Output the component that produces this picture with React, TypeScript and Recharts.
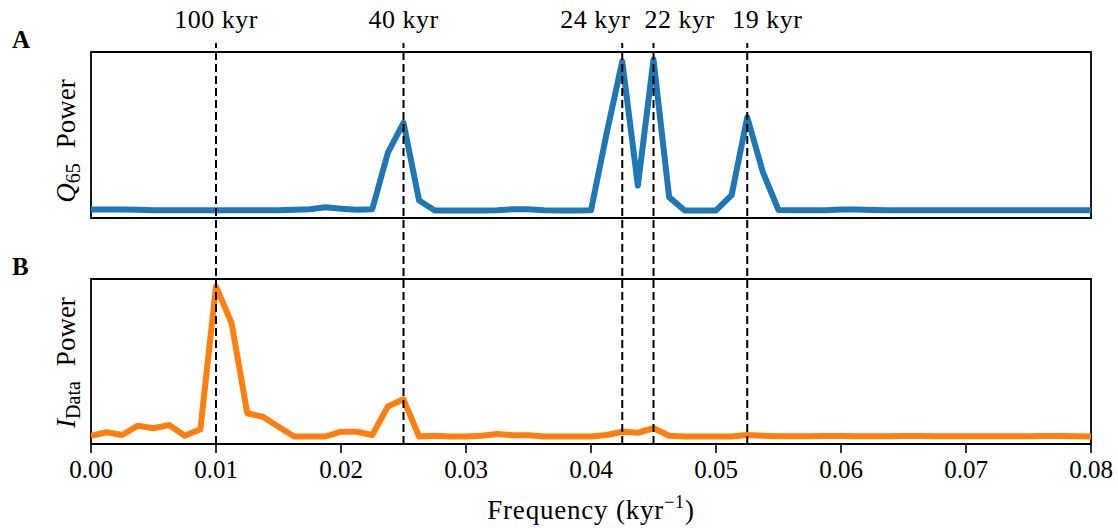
import React from "react";
import {
  LineChart,
  Line,
  XAxis,
  YAxis,
  ReferenceLine,
  ReferenceArea,
} from "recharts";

// frequency grid (kyr^-1)
const freqs = [
  0, 0.00125, 0.0025, 0.00375, 0.005, 0.00625, 0.0075, 0.00875, 0.01, 0.01125,
  0.0125, 0.01375, 0.015, 0.01625, 0.0175, 0.01875, 0.02, 0.02125, 0.0225, 0.02375,
  0.025, 0.02625, 0.0275, 0.02875, 0.03, 0.03125, 0.0325, 0.03375, 0.035, 0.03625,
  0.0375, 0.03875, 0.04, 0.04125, 0.0425, 0.04375, 0.045, 0.04625, 0.0475, 0.04875,
  0.05, 0.05125, 0.0525, 0.05375, 0.055, 0.05625, 0.0575, 0.05875, 0.06, 0.06125,
  0.0625, 0.06375, 0.065, 0.06625, 0.0675, 0.06875, 0.07, 0.07125, 0.0725, 0.07375,
  0.075, 0.07625, 0.0775, 0.07875, 0.08,
];

// Q65 power (normalised)
const q65Power = [
  0.01, 0.01, 0.01, 0.008, 0.006, 0.006, 0.006, 0.006, 0.006, 0.006,
  0.006, 0.006, 0.006, 0.008, 0.012, 0.025, 0.016, 0.008, 0.012, 0.39,
  0.59, 0.07, 0.004, 0.004, 0.004, 0.004, 0.006, 0.012, 0.012, 0.006,
  0.004, 0.004, 0.005, 0.52, 1.0, 0.17, 1.013, 0.093, 0.004, 0.004,
  0.004, 0.107, 0.627, 0.26, 0.007, 0.005, 0.005, 0.006, 0.01, 0.01,
  0.007, 0.005, 0.005, 0.005, 0.005, 0.005, 0.005, 0.005, 0.005, 0.005,
  0.005, 0.005, 0.005, 0.005, 0.005,
];

// insolation data power (normalised)
const iDataPower = [
  0.005, 0.028, 0.01, 0.072, 0.055, 0.077, 0.005, 0.048, 1.0, 0.755,
  0.155, 0.132, 0.065, 0.0, 0.0, 0.0, 0.032, 0.032, 0.01, 0.2,
  0.248, 0.0, 0.005, 0.0, 0.0, 0.005, 0.017, 0.008, 0.008, 0.0,
  0.0, 0.0, 0.0, 0.01, 0.032, 0.025, 0.055, 0.005, 0.0, 0.0,
  0.0, 0.0, 0.01, 0.005, 0.002, 0.002, 0.002, 0.003, 0.003, 0.002,
  0.002, 0.002, 0.003, 0.003, 0.002, 0.002, 0.002, 0.002, 0.002, 0.002,
  0.002, 0.003, 0.003, 0.002, 0.0,
];

const periodFreqs = [0.01, 0.025, 0.0425, 0.045, 0.0525];
const periodLabels = ["100 kyr", "40 kyr", "24 kyr", "22 kyr", "19 kyr"];
// horizontal nudge of each period label (px) so the close ones don't collide
const periodLabelShift = [0, 0, -27, 26, 20];
const xTicks = [0, 0.01, 0.02, 0.03, 0.04, 0.05, 0.06, 0.07, 0.08];

const data = freqs.map((f, i) => ({ f, q65: q65Power[i], idata: iDataPower[i] }));

const FONT = "'Liberation Serif', 'Times New Roman', serif";
const W = 1118;

// matplotlib-style 5% margins
const padDomain = (vals: number[]): [number, number] => {
  const lo = Math.min(...vals);
  const hi = Math.max(...vals);
  const p = (hi - lo) * 0.05;
  return [lo - p, hi + p];
};
const topDomain = padDomain(q65Power);
const botDomain = padDomain(iDataPower);

const makeYLabel = (panel: string, main: string, sub: string, nudge: number) => (props: any) => {
  const vb = props.viewBox || { x: 0, y: 52, width: 91, height: 166 };
  const cx = 75;
  const cy = vb.y + vb.height / 2 + nudge;
  return (
    <g>
      <text x={12} y={vb.y - 4} fontFamily={FONT} fontSize={25} fontWeight="bold" fill="#000">
        {panel}
      </text>
      <text
        x={cx}
        y={cy}
        transform={`rotate(-90 ${cx} ${cy})`}
        textAnchor="middle"
        fontFamily={FONT}
        fontSize={27}
        fill="#000"
      >
        <tspan fontStyle="italic">{main}</tspan>
        <tspan fontSize={20} dy={5}>
          {sub}
        </tspan>
        <tspan dx={15} dy={-5}>
          Power
        </tspan>
      </text>
    </g>
  );
};

const XLabel = (props: any) => {
  const vb = props.viewBox || { x: 91, y: 197, width: 1000, height: 84 };
  const cx = vb.x + vb.width / 2;
  return (
    <text
      x={cx}
      y={vb.y + 75}
      textAnchor="middle"
      fontFamily={FONT}
      fontSize={27}
      letterSpacing={0.8}
      fill="#000"
    >
      Frequency (kyr
      <tspan fontSize={18} dy={-11}>
        −1
      </tspan>
      <tspan dy={11}>)</tspan>
    </text>
  );
};

const makePeriodLabel = (text: string, shift: number) => (props: any) => {
  const vb = props.viewBox || { x: 0, y: 43 };
  return (
    <text
      x={vb.x + shift}
      y={vb.y - 15}
      textAnchor="middle"
      fontFamily={FONT}
      fontSize={26}
      letterSpacing={0.5}
      fill="#000"
    >
      {text}
    </text>
  );
};

export default function App() {
  return (
    <div style={{ position: "absolute", left: 0, top: 0, width: W, height: 528, background: "#fff" }}>
      {/* panel A */}
      <div style={{ position: "absolute", left: 0, top: 0 }}>
        <LineChart width={W} height={248} data={data} margin={{ top: 52, right: 27, bottom: 30, left: 0 }}>
          <XAxis dataKey="f" type="number" domain={[0, 0.08]} allowDataOverflow hide />
          <YAxis
            type="number"
            domain={topDomain}
            allowDataOverflow
            width={91}
            tick={false}
            axisLine={false}
            tickLine={false}
            label={makeYLabel("A", "Q", "65", 6)}
          />
          <Line
            type="linear"
            dataKey="q65"
            stroke="#1f77b4"
            strokeWidth={6}
            strokeLinejoin="round"
            dot={false}
            isAnimationActive={false}
          />
          <ReferenceArea
            x1={0}
            x2={0.08}
            y1={topDomain[0]}
            y2={topDomain[1]}
            fill="none"
            stroke="#000"
            strokeWidth={1.8}
            fillOpacity={0}
          />
        </LineChart>
      </div>

      {/* panel B */}
      <div style={{ position: "absolute", left: 0, top: 248 }}>
        <LineChart width={W} height={280} data={data} margin={{ top: 31, right: 27, bottom: 0, left: 0 }}>
          <XAxis
            dataKey="f"
            type="number"
            domain={[0, 0.08]}
            allowDataOverflow
            ticks={xTicks}
            interval={0}
            tickFormatter={(v: number) => v.toFixed(2)}
            height={84}
            axisLine={false}
            tickSize={9}
            tickMargin={7}
            tickLine={{ stroke: "#000", strokeWidth: 1.6 }}
            tick={{ fontFamily: FONT, fontSize: 25, fill: "#000" }}
            label={XLabel}
          />
          <YAxis
            type="number"
            domain={botDomain}
            allowDataOverflow
            width={91}
            tick={false}
            axisLine={false}
            tickLine={false}
            label={makeYLabel("B", "I", "Data", 1)}
          />
          <Line
            type="linear"
            dataKey="idata"
            stroke="#ff7f0e"
            strokeWidth={6}
            strokeLinejoin="round"
            dot={false}
            isAnimationActive={false}
          />
          <ReferenceArea
            x1={0}
            x2={0.08}
            y1={botDomain[0]}
            y2={botDomain[1]}
            fill="none"
            stroke="#000"
            strokeWidth={1.8}
            fillOpacity={0}
          />
        </LineChart>
      </div>

      {/* period markers spanning both panels */}
      <div style={{ position: "absolute", left: 0, top: 0, pointerEvents: "none" }}>
        <LineChart width={W} height={528} data={data} margin={{ top: 43, right: 27, bottom: 84, left: 91 }}>
          <XAxis dataKey="f" type="number" domain={[0, 0.08]} allowDataOverflow hide />
          <YAxis type="number" domain={[-0.1, 1.1]} allowDataOverflow hide />
          <Line
            type="linear"
            dataKey="q65"
            stroke="none"
            strokeOpacity={0}
            dot={false}
            activeDot={false}
            isAnimationActive={false}
          />
          {periodFreqs.map((pf, i) => (
            <ReferenceLine
              key={pf}
              x={pf}
              stroke="#000"
              strokeWidth={2}
              strokeDasharray="8 4"
              label={makePeriodLabel(periodLabels[i], periodLabelShift[i])}
            />
          ))}
        </LineChart>
      </div>
    </div>
  );
}
